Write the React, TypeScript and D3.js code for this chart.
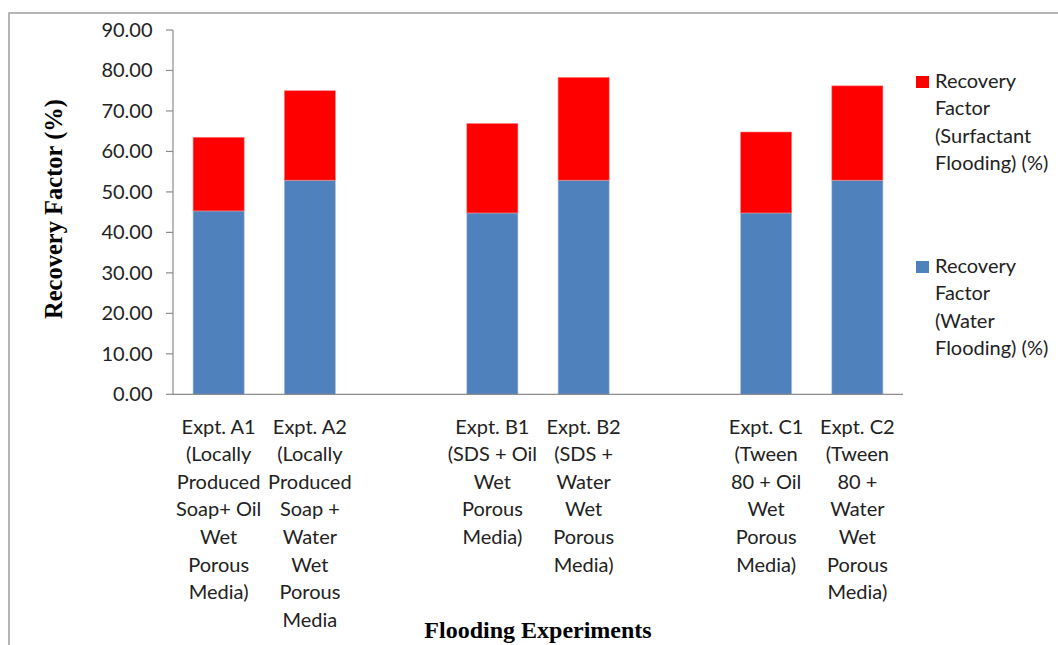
import React from 'react'
import * as d3 from 'd3'

// categories (blank slots keep the gaps between experiment groups)
const categories = ['A1', 'A2', 'gap1', 'B1', 'B2', 'gap2', 'C1', 'C2']
const categoryLabels = [
    ['Expt. A1', '(Locally', 'Produced', 'Soap+ Oil', 'Wet', 'Porous', 'Media)'],
    ['Expt. A2', '(Locally', 'Produced', 'Soap +', 'Water', 'Wet', 'Porous', 'Media'],
    [],
    ['Expt. B1', '(SDS + Oil', 'Wet', 'Porous', 'Media)'],
    ['Expt. B2', '(SDS +', 'Water', 'Wet', 'Porous', 'Media)'],
    [],
    ['Expt. C1', '(Tween', '80 + Oil', 'Wet', 'Porous', 'Media)'],
    ['Expt. C2', '(Tween', '80 +', 'Water', 'Wet', 'Porous', 'Media)'],
]
const waterFlooding = [45.3, 52.9, 0, 44.8, 52.9, 0, 44.8, 52.9]
const surfactantFlooding = [18.2, 22.1, 0, 22.1, 25.4, 0, 20.0, 23.3]
const yTicks = [0, 10, 20, 30, 40, 50, 60, 70, 80, 90]

const seriesNames = ['water', 'surfactant']
const colors: Record<string, string> = { water: '#4F81BD', surfactant: '#FF0000' }
const legendItems = [
    { key: 'surfactant', lines: ['Recovery', 'Factor', '(Surfactant', 'Flooding) (%)'] },
    { key: 'water', lines: ['Recovery', 'Factor', '(Water', 'Flooding) (%)'] },
]

const App = () => {
    const width = 1058, height = 645
    const left = 173, right = 903, top = 30, bottom = 394.3
    const font = 'Lato, "Open Sans", sans-serif'

    const x = d3.scaleBand<string>()
        .domain(categories)
        .range([left, right])
        .paddingInner(0.44)
        .paddingOuter(0.22)
    const y = d3.scaleLinear().domain([0, 90]).range([bottom, top])

    const rows = categories.map((c, i) => ({ cat: c, water: waterFlooding[i], surfactant: surfactantFlooding[i] }))
    const stacked = d3.stack<any>().keys(seriesNames)(rows)
    const fmt = d3.format('.2f')

    return (
        <svg width={width} height={height} style={{ position: 'absolute', left: 0, top: 0, background: '#fff' }}>
            <rect x={9} y={13} width={1200} height={800} fill="none" stroke="#a3a3a3" strokeWidth={1.6} />

            {/* bars */}
            {stacked.map(s => (
                <g key={s.key} fill={colors[s.key]}>
                    {s.map((d, i) => d[1] - d[0] > 0 ? (
                        <rect key={i}
                            x={x(categories[i])}
                            y={y(d[1])}
                            width={x.bandwidth()}
                            height={y(d[0]) - y(d[1])}
                            stroke={s.key === 'water' ? '#a9c0e0' : '#ff8080'}
                            strokeWidth={0.6} />
                    ) : null)}
                </g>
            ))}

            {/* y axis */}
            <line x1={left} x2={left} y1={top} y2={bottom} stroke="#8c8c8c" strokeWidth={1.2} />
            {yTicks.map(t => (
                <g key={t}>
                    <line x1={left - 7} x2={left} y1={y(t)} y2={y(t)} stroke="#8c8c8c" strokeWidth={1.2} />
                    <text x={152.5} y={y(t)} dy="0.35em" textAnchor="end" fontFamily={font} fontSize={20} fill="#222">{fmt(t)}</text>
                </g>
            ))}
            {/* x axis */}
            <line x1={left} x2={right} y1={bottom} y2={bottom} stroke="#8c8c8c" strokeWidth={1.2} />
            {categories.map((c, i) => (
                <text key={c} x={x(c)! + x.bandwidth() / 2} y={433.5} textAnchor="middle" fontFamily={font} fontSize={20} fill="#222">
                    {categoryLabels[i].map((l, j) => (
                        <tspan key={j} x={x(c)! + x.bandwidth() / 2} dy={j === 0 ? 0 : 27.6}>{l}</tspan>
                    ))}
                </text>
            ))}

            {/* axis titles */}
            <text transform="translate(62,209) rotate(-90)" textAnchor="middle" fontFamily='"Liberation Serif", "Times New Roman", serif'
                fontWeight="bold" fontSize={24.5} fill="#000">Recovery Factor (%)</text>
            <text x={538} y={638} textAnchor="middle" fontFamily='"Liberation Serif", "Times New Roman", serif'
                fontWeight="bold" fontSize={24} fill="#000">Flooding Experiments</text>

            {/* legend */}
            {legendItems.map((item, k) => {
                const y0 = k === 0 ? 88 : 273
                return (
                    <g key={item.key}>
                        <rect x={916} y={y0 - 12} width={13} height={12} fill={colors[item.key]} />
                        <text x={935} y={y0} fontFamily={font} fontSize={20} fill="#222">
                            {item.lines.map((l, j) => (
                                <tspan key={j} x={935} dy={j === 0 ? 0 : 27.3}>{l}</tspan>
                            ))}
                        </text>
                    </g>
                )
            })}
        </svg>
    )
}

export default App
